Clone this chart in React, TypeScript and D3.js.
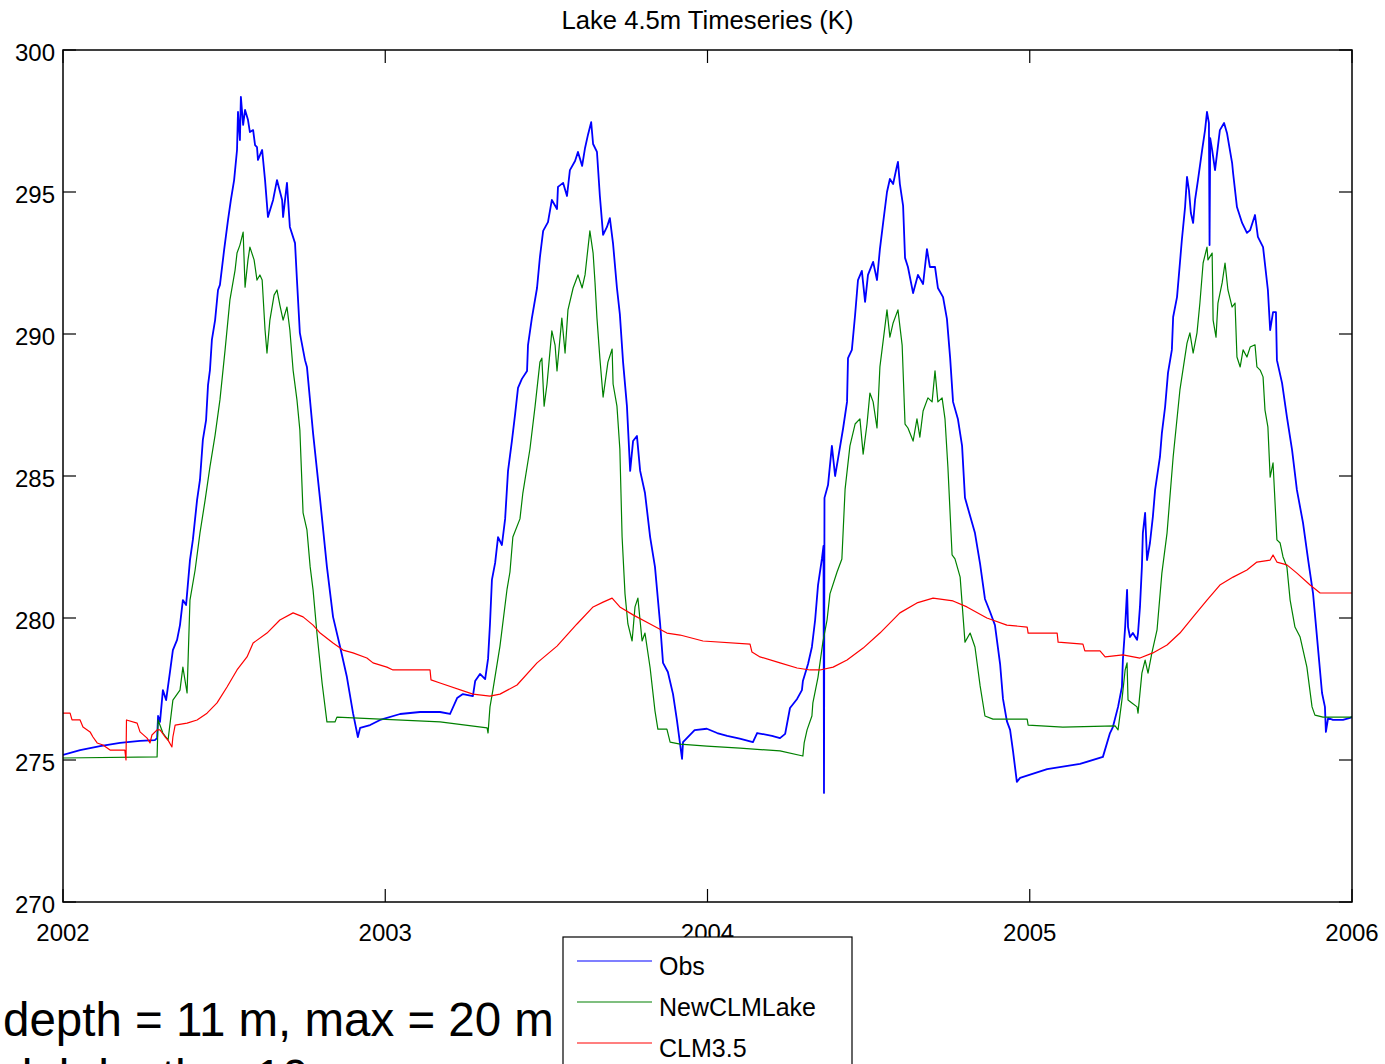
import React from 'react';
import * as d3 from 'd3';

const chartTitle = 'Lake 4.5m Timeseries (K)';
const xTicks = [2002, 2003, 2004, 2005, 2006];
const yTicks = [270, 275, 280, 285, 290, 295, 300];
const seriesNames = ['Obs', 'NewCLMLake', 'CLM3.5'];
const seriesColors = ['#0000ff', '#008000', '#ff0000'];
const noteLines = ['depth = 11 m, max = 20 m', 'Model depth = 10 m'];

// Obs (decimal year, K)
const obs: [number, number][] = [
  [2002.000, 275.18], [2002.053, 275.35], [2002.115, 275.49], [2002.177, 275.60], [2002.239, 275.67],
  [2002.285, 275.70], [2002.292, 275.77], [2002.295, 276.55], [2002.301, 276.34], [2002.310, 277.46],
  [2002.320, 277.11], [2002.332, 278.10], [2002.341, 278.87], [2002.354, 279.23], [2002.363, 279.75],
  [2002.372, 280.63], [2002.382, 280.46], [2002.394, 282.04], [2002.403, 282.75], [2002.416, 284.15],
  [2002.425, 284.86], [2002.434, 286.27], [2002.444, 286.97], [2002.450, 288.20], [2002.456, 288.73],
  [2002.462, 289.79], [2002.472, 290.49], [2002.481, 291.55], [2002.487, 291.73], [2002.500, 292.96],
  [2002.512, 294.01], [2002.521, 294.72], [2002.531, 295.42], [2002.540, 296.48], [2002.543, 297.82],
  [2002.549, 296.83], [2002.552, 298.35], [2002.559, 297.36], [2002.565, 297.89], [2002.574, 297.54],
  [2002.580, 297.11], [2002.590, 297.18], [2002.596, 296.65], [2002.602, 296.58], [2002.605, 296.13],
  [2002.618, 296.48], [2002.627, 295.42], [2002.636, 294.12], [2002.652, 294.72], [2002.664, 295.42],
  [2002.680, 294.72], [2002.683, 294.12], [2002.695, 295.32], [2002.704, 293.77], [2002.720, 293.20],
  [2002.726, 291.90], [2002.735, 290.04], [2002.751, 289.08], [2002.757, 288.84], [2002.776, 286.51],
  [2002.798, 284.15], [2002.819, 281.80], [2002.838, 280.04], [2002.860, 278.98], [2002.881, 277.92],
  [2002.900, 276.65], [2002.915, 275.81], [2002.922, 276.13], [2002.953, 276.23], [2002.984, 276.41],
  [2003.046, 276.62], [2003.108, 276.69], [2003.170, 276.69], [2003.201, 276.62], [2003.223, 277.18],
  [2003.241, 277.32], [2003.272, 277.25], [2003.279, 277.78], [2003.294, 278.03], [2003.310, 277.85],
  [2003.319, 278.56], [2003.325, 279.79], [2003.331, 281.34], [2003.341, 281.94], [2003.350, 282.85],
  [2003.362, 282.57], [2003.372, 283.49], [2003.381, 285.18], [2003.393, 286.23], [2003.403, 287.18],
  [2003.412, 288.10], [2003.424, 288.42], [2003.440, 288.70], [2003.443, 289.61], [2003.455, 290.56],
  [2003.471, 291.62], [2003.480, 292.71], [2003.490, 293.63], [2003.505, 293.94], [2003.517, 294.72],
  [2003.533, 294.40], [2003.536, 295.18], [2003.552, 295.32], [2003.564, 294.86], [2003.573, 295.77],
  [2003.589, 296.09], [2003.598, 296.41], [2003.611, 295.92], [2003.620, 296.55], [2003.629, 297.01],
  [2003.639, 297.46], [2003.645, 296.69], [2003.657, 296.41], [2003.666, 294.86], [2003.676, 293.49],
  [2003.688, 293.77], [2003.697, 294.08], [2003.707, 293.17], [2003.719, 291.62], [2003.728, 290.70],
  [2003.738, 289.01], [2003.750, 287.46], [2003.760, 285.18], [2003.769, 286.23], [2003.781, 286.41],
  [2003.791, 285.18], [2003.806, 284.40], [2003.822, 282.85], [2003.837, 281.80], [2003.853, 279.79],
  [2003.862, 278.42], [2003.877, 278.10], [2003.893, 277.32], [2003.905, 276.41], [2003.921, 275.04],
  [2003.924, 275.63], [2003.936, 275.77], [2003.960, 276.05], [2003.998, 276.10], [2004.030, 275.95],
  [2004.061, 275.85], [2004.100, 275.75], [2004.141, 275.63], [2004.154, 275.95], [2004.200, 275.85],
  [2004.225, 275.77], [2004.241, 275.92], [2004.256, 276.83], [2004.278, 277.15], [2004.293, 277.46],
  [2004.296, 277.78], [2004.312, 278.38], [2004.324, 278.98], [2004.334, 279.93], [2004.343, 281.16],
  [2004.355, 282.08], [2004.360, 282.54], [2004.3615, 273.84], [2004.363, 284.23], [2004.374, 284.68],
  [2004.386, 286.06], [2004.396, 285.00], [2004.405, 285.60], [2004.421, 286.69], [2004.433, 287.61],
  [2004.436, 289.15], [2004.448, 289.44], [2004.458, 290.67], [2004.467, 291.90], [2004.479, 292.22],
  [2004.489, 291.13], [2004.498, 292.08], [2004.514, 292.54], [2004.526, 291.90], [2004.535, 292.99],
  [2004.545, 293.91], [2004.557, 295.00], [2004.566, 295.46], [2004.576, 295.28], [2004.588, 295.92],
  [2004.591, 296.06], [2004.597, 295.28], [2004.607, 294.51], [2004.613, 292.68], [2004.622, 292.36],
  [2004.638, 291.44], [2004.653, 292.08], [2004.669, 291.76], [2004.681, 292.99], [2004.690, 292.36],
  [2004.706, 292.36], [2004.715, 291.62], [2004.731, 291.30], [2004.743, 290.53], [2004.753, 289.15],
  [2004.762, 287.61], [2004.777, 287.01], [2004.790, 286.06], [2004.799, 284.23], [2004.815, 283.59],
  [2004.830, 282.99], [2004.846, 281.90], [2004.861, 280.67], [2004.877, 280.21], [2004.892, 279.75],
  [2004.908, 278.38], [2004.917, 277.15], [2004.929, 276.37], [2004.939, 276.06], [2004.948, 275.32],
  [2004.960, 274.23], [2004.970, 274.37], [2005.054, 274.68], [2005.156, 274.86], [2005.227, 275.11],
  [2005.249, 275.95], [2005.258, 276.16], [2005.274, 276.87], [2005.286, 277.57], [2005.289, 278.52],
  [2005.296, 279.68], [2005.302, 280.99], [2005.305, 279.68], [2005.311, 279.33], [2005.320, 279.47],
  [2005.333, 279.23], [2005.336, 279.47], [2005.342, 280.39], [2005.348, 281.80], [2005.351, 282.99],
  [2005.358, 283.70], [2005.364, 282.04], [2005.373, 282.64], [2005.382, 283.56], [2005.389, 284.51],
  [2005.404, 285.67], [2005.410, 286.51], [2005.420, 287.43], [2005.429, 288.63], [2005.441, 289.44],
  [2005.445, 290.60], [2005.457, 291.30], [2005.466, 292.50], [2005.472, 293.31], [2005.476, 293.77],
  [2005.482, 294.47], [2005.488, 295.53], [2005.494, 295.07], [2005.500, 294.26], [2005.507, 293.91],
  [2005.513, 294.72], [2005.522, 295.42], [2005.535, 296.48], [2005.544, 297.18], [2005.550, 297.82],
  [2005.556, 297.43], [2005.558, 293.13], [2005.560, 296.90], [2005.566, 296.48], [2005.575, 295.77],
  [2005.590, 297.18], [2005.603, 297.43], [2005.612, 297.08], [2005.628, 296.02], [2005.631, 295.67],
  [2005.643, 294.47], [2005.659, 293.91], [2005.674, 293.56], [2005.684, 293.66], [2005.699, 294.19],
  [2005.708, 293.42], [2005.724, 293.06], [2005.739, 291.55], [2005.746, 290.14], [2005.755, 290.77],
  [2005.764, 290.77], [2005.767, 289.08], [2005.783, 288.27], [2005.798, 287.08], [2005.814, 285.92],
  [2005.829, 284.51], [2005.848, 283.35], [2005.864, 282.04], [2005.879, 280.88], [2005.895, 278.87],
  [2005.907, 277.36], [2005.916, 276.87], [2005.919, 275.99], [2005.926, 276.48], [2005.941, 276.41],
  [2005.972, 276.41], [2005.994, 276.48], [2006.000, 276.52],
];

// NewCLMLake
const newClmLake: [number, number][] = [
  [2002.000, 275.07], [2002.292, 275.11], [2002.295, 276.41], [2002.310, 275.95], [2002.326, 275.70],
  [2002.341, 277.11], [2002.363, 277.46], [2002.372, 278.27], [2002.385, 277.36], [2002.394, 280.63],
  [2002.410, 281.69], [2002.425, 282.99], [2002.441, 284.15], [2002.456, 285.32], [2002.472, 286.44],
  [2002.487, 287.68], [2002.503, 289.44], [2002.518, 291.20], [2002.534, 292.25], [2002.540, 292.85],
  [2002.549, 293.13], [2002.559, 293.59], [2002.565, 291.65], [2002.574, 292.61], [2002.580, 293.06],
  [2002.593, 292.61], [2002.602, 291.90], [2002.611, 292.08], [2002.618, 291.90], [2002.627, 290.14],
  [2002.633, 289.33], [2002.642, 290.49], [2002.655, 291.37], [2002.664, 291.55], [2002.673, 291.02],
  [2002.683, 290.49], [2002.695, 290.95], [2002.704, 290.14], [2002.714, 288.73], [2002.726, 287.68],
  [2002.735, 286.62], [2002.745, 283.70], [2002.757, 283.10], [2002.767, 281.80], [2002.776, 280.99],
  [2002.788, 279.47], [2002.804, 277.71], [2002.819, 276.34], [2002.844, 276.34], [2002.850, 276.51],
  [2003.170, 276.34], [2003.316, 276.13], [2003.319, 275.95], [2003.325, 276.87], [2003.334, 277.46],
  [2003.356, 279.01], [2003.378, 281.02], [2003.387, 281.62], [2003.396, 282.85], [2003.418, 283.49],
  [2003.427, 284.40], [2003.449, 285.95], [2003.465, 287.46], [2003.480, 289.01], [2003.486, 289.15],
  [2003.493, 287.46], [2003.502, 288.24], [2003.517, 290.11], [2003.527, 289.61], [2003.533, 288.70],
  [2003.548, 290.56], [2003.558, 289.33], [2003.567, 290.85], [2003.583, 291.62], [2003.598, 292.08],
  [2003.611, 291.62], [2003.620, 292.08], [2003.626, 292.71], [2003.635, 293.63], [2003.645, 292.85],
  [2003.651, 291.80], [2003.657, 290.56], [2003.666, 289.15], [2003.676, 287.78], [2003.691, 289.01],
  [2003.704, 289.47], [2003.707, 288.24], [2003.719, 287.46], [2003.728, 285.95], [2003.735, 282.85],
  [2003.744, 280.85], [2003.753, 279.79], [2003.766, 279.19], [2003.775, 280.39], [2003.784, 280.70],
  [2003.797, 279.19], [2003.806, 279.47], [2003.822, 278.24], [2003.837, 276.73], [2003.846, 276.09],
  [2003.874, 276.09], [2003.884, 275.63], [2003.915, 275.56], [2003.998, 275.49], [2004.101, 275.42],
  [2004.225, 275.32], [2004.296, 275.14], [2004.300, 275.60], [2004.309, 276.06], [2004.324, 276.55],
  [2004.327, 277.01], [2004.343, 277.92], [2004.358, 279.15], [2004.371, 279.93], [2004.380, 280.85],
  [2004.402, 281.62], [2004.417, 282.08], [2004.427, 284.54], [2004.442, 286.06], [2004.458, 286.83],
  [2004.473, 287.01], [2004.483, 285.77], [2004.495, 286.83], [2004.504, 287.92], [2004.514, 287.61],
  [2004.526, 286.69], [2004.535, 288.84], [2004.545, 289.75], [2004.557, 290.85], [2004.566, 289.89],
  [2004.576, 290.39], [2004.591, 290.85], [2004.604, 289.61], [2004.613, 286.83], [2004.622, 286.69],
  [2004.638, 286.23], [2004.650, 287.01], [2004.659, 286.37], [2004.669, 287.29], [2004.684, 287.75],
  [2004.697, 287.61], [2004.706, 288.70], [2004.715, 287.61], [2004.728, 287.75], [2004.737, 287.01],
  [2004.746, 285.32], [2004.759, 282.22], [2004.768, 282.08], [2004.784, 281.44], [2004.799, 279.15],
  [2004.815, 279.47], [2004.830, 278.98], [2004.846, 277.61], [2004.861, 276.55], [2004.886, 276.44],
  [2004.992, 276.44], [2004.995, 276.23], [2005.103, 276.16], [2005.265, 276.20], [2005.274, 276.06],
  [2005.286, 277.11], [2005.296, 278.17], [2005.302, 278.42], [2005.305, 277.11], [2005.317, 277.01],
  [2005.333, 276.87], [2005.336, 276.65], [2005.348, 278.06], [2005.358, 278.52], [2005.367, 278.06],
  [2005.379, 278.77], [2005.395, 279.58], [2005.410, 281.58], [2005.426, 282.99], [2005.445, 285.67],
  [2005.466, 288.03], [2005.488, 289.68], [2005.497, 290.04], [2005.507, 289.33], [2005.519, 290.04],
  [2005.528, 291.09], [2005.538, 292.50], [2005.550, 293.06], [2005.553, 292.61], [2005.566, 292.85],
  [2005.569, 290.49], [2005.578, 289.89], [2005.584, 291.09], [2005.597, 291.80], [2005.606, 292.50],
  [2005.615, 291.55], [2005.628, 290.95], [2005.637, 291.09], [2005.643, 289.19], [2005.653, 288.84],
  [2005.662, 289.44], [2005.674, 289.19], [2005.684, 289.54], [2005.699, 289.62], [2005.705, 288.84],
  [2005.715, 288.73], [2005.724, 288.49], [2005.730, 287.32], [2005.739, 286.73], [2005.746, 284.96],
  [2005.755, 285.46], [2005.767, 282.75], [2005.777, 282.64], [2005.786, 282.15], [2005.798, 281.80],
  [2005.808, 280.63], [2005.823, 279.68], [2005.839, 279.33], [2005.860, 278.27], [2005.876, 276.87],
  [2005.885, 276.58], [2005.910, 276.51], [2006.000, 276.51],
];

// CLM3.5
const clm35: [number, number][] = [
  [2002.000, 276.65], [2002.022, 276.65], [2002.028, 276.41], [2002.053, 276.41], [2002.062, 276.16],
  [2002.084, 275.99], [2002.093, 275.81], [2002.106, 275.60], [2002.124, 275.53], [2002.146, 275.35],
  [2002.192, 275.35], [2002.1955, 275.00], [2002.197, 276.41], [2002.230, 276.30], [2002.239, 275.99],
  [2002.261, 275.77], [2002.270, 275.60], [2002.276, 275.88], [2002.292, 276.06], [2002.301, 276.06],
  [2002.317, 275.81], [2002.326, 275.70], [2002.338, 275.46], [2002.341, 275.81], [2002.348, 276.23],
  [2002.385, 276.30], [2002.416, 276.41], [2002.447, 276.65], [2002.478, 277.01], [2002.509, 277.57],
  [2002.540, 278.17], [2002.571, 278.63], [2002.590, 279.12], [2002.633, 279.47], [2002.673, 279.93],
  [2002.714, 280.18], [2002.745, 280.04], [2002.776, 279.75], [2002.798, 279.47], [2002.838, 279.12],
  [2002.869, 278.87], [2002.900, 278.77], [2002.943, 278.59], [2002.962, 278.42], [2003.005, 278.27],
  [2003.024, 278.17], [2003.139, 278.17], [2003.142, 277.82], [2003.170, 277.71], [2003.272, 277.32],
  [2003.325, 277.25], [2003.356, 277.32], [2003.409, 277.64], [2003.471, 278.42], [2003.533, 279.01],
  [2003.595, 279.79], [2003.645, 280.39], [2003.676, 280.56], [2003.704, 280.70], [2003.728, 280.39],
  [2003.769, 280.11], [2003.822, 279.79], [2003.874, 279.47], [2003.915, 279.40], [2003.986, 279.19],
  [2004.132, 279.08], [2004.138, 278.80], [2004.163, 278.63], [2004.225, 278.42], [2004.278, 278.24],
  [2004.318, 278.17], [2004.349, 278.17], [2004.390, 278.27], [2004.433, 278.52], [2004.483, 278.94],
  [2004.535, 279.47], [2004.597, 280.18], [2004.650, 280.53], [2004.700, 280.70], [2004.762, 280.60],
  [2004.805, 280.39], [2004.867, 280.00], [2004.929, 279.75], [2004.992, 279.68], [2004.995, 279.47],
  [2005.085, 279.47], [2005.088, 279.15], [2005.165, 279.08], [2005.171, 278.84], [2005.218, 278.84],
  [2005.234, 278.63], [2005.289, 278.70], [2005.342, 278.59], [2005.382, 278.77], [2005.426, 279.05],
  [2005.466, 279.47], [2005.507, 280.04], [2005.550, 280.63], [2005.590, 281.16], [2005.631, 281.44],
  [2005.674, 281.69], [2005.705, 281.97], [2005.746, 282.04], [2005.755, 282.22], [2005.767, 281.97],
  [2005.798, 281.87], [2005.829, 281.58], [2005.870, 281.16], [2005.901, 280.88], [2006.000, 280.88],
];

const seriesData = [obs, newClmLake, clm35];

const W = 1385;
const H = 1064;
const M = { left: 63, right: 1352, top: 50, bottom: 902 };
const FONT = '"Liberation Sans", Arial, Helvetica, sans-serif';

export default function App() {
  const x = d3.scaleLinear().domain([2002, 2006]).range([M.left, M.right]);
  const y = d3.scaleLinear().domain([270, 300]).range([M.bottom, M.top]);
  const line = d3
    .line<[number, number]>()
    .x((d) => x(d[0]))
    .y((d) => y(d[1]));
  const tickLen = 13;
  const legX = 563;
  const legY = 937;
  const legRow = 41;

  return (
    <svg
      width={W}
      height={H}
      style={{ position: 'absolute', left: 0, top: 0, background: '#fff' }}
      fontFamily={FONT}
    >
      <rect x={0} y={0} width={W} height={H} fill="#fff" />
      <defs>
        <clipPath id="plotClip">
          <rect x={M.left} y={M.top} width={M.right - M.left} height={M.bottom - M.top} />
        </clipPath>
      </defs>
      <text x={(M.left + M.right) / 2} y={29} textAnchor="middle" fontSize={25} fill="#000" textLength={292} lengthAdjust="spacingAndGlyphs">
        {chartTitle}
      </text>

      <g clipPath="url(#plotClip)">
        {seriesData.map((s, i) => (
          <path
            key={seriesNames[i]}
            d={line(s) || ''}
            fill="none"
            stroke={seriesColors[i]}
            strokeWidth={i === 0 ? 1.8 : 1.2}
            strokeLinejoin="round"
          />
        ))}
      </g>

      {/* frame */}
      <rect
        x={M.left}
        y={M.top}
        width={M.right - M.left}
        height={M.bottom - M.top}
        fill="none"
        stroke="#000"
        strokeWidth={1.5}
      />
      {xTicks.map((t) => (
        <g key={'x' + t}>
          <line x1={x(t)} x2={x(t)} y1={M.bottom} y2={M.bottom - tickLen} stroke="#000" strokeWidth={1.2} />
          <line x1={x(t)} x2={x(t)} y1={M.top} y2={M.top + tickLen} stroke="#000" strokeWidth={1.2} />
          <text x={x(t)} y={941} textAnchor="middle" fontSize={24} fill="#000">
            {t}
          </text>
        </g>
      ))}
      {yTicks.map((t) => (
        <g key={'y' + t}>
          <line x1={M.left} x2={M.left + tickLen} y1={y(t)} y2={y(t)} stroke="#000" strokeWidth={1.2} />
          <line x1={M.right} x2={M.right - tickLen} y1={y(t)} y2={y(t)} stroke="#000" strokeWidth={1.2} />
          <text x={55} y={y(t) + 11} textAnchor="end" fontSize={24} fill="#000">
            {t}
          </text>
        </g>
      ))}

      {/* note text (cropped at the bottom edge, as in the source image) */}
      <text x={3} y={1036} fontSize={47.5} fill="#000">
        {noteLines[0]}
      </text>
      <text x={-60} y={1093} fontSize={47.5} fill="#000">
        {noteLines[1]}
      </text>

      {/* legend */}
      <rect x={legX} y={legY} width={289} height={140} fill="#fff" stroke="#000" strokeWidth={1.2} />
      {seriesNames.map((n, i) => (
        <g key={'leg' + n}>
          <line
            x1={legX + 14}
            x2={legX + 89}
            y1={legY + 24 + i * legRow}
            y2={legY + 24 + i * legRow}
            stroke={seriesColors[i]}
            strokeWidth={1.2}
          />
          <text x={legX + 96} y={legY + 24 + i * legRow + 14} fontSize={25} fill="#000">
            {n}
          </text>
        </g>
      ))}
    </svg>
  );
}
